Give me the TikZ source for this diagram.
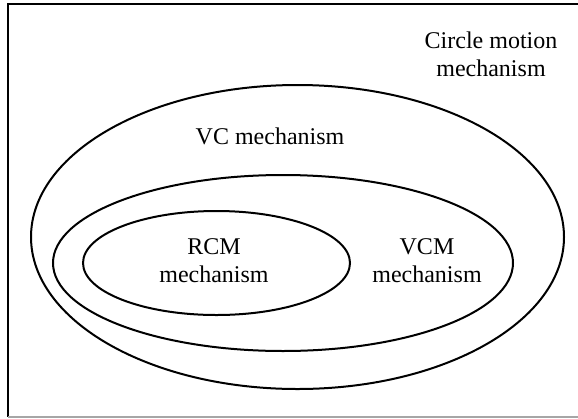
\documentclass[tikz,border=0pt]{standalone}
\usepackage{fontspec}
\setmainfont{Liberation Serif}
\begin{document}
\begin{tikzpicture}[x=1pt,y=-1pt,line width=2pt,
  lbl/.style={align=center,inner sep=0pt,font=\fontsize{24}{28}\selectfont}]
\useasboundingbox (0,0) rectangle (578,418);
\draw (580,4) -- (8,4) -- (8,417);
\draw[black!35] (8,417) -- (580,417);
\draw (297.5,237) ellipse [x radius=266.5, y radius=152];
\draw (283,263) ellipse [x radius=230, y radius=88];
\draw (216.5,263) ellipse [x radius=133.5, y radius=52];
\node[lbl] (circ) at (491,54) {Circle motion\\mechanism};
\node[lbl] (vc) at (270,136) {VC mechanism};
\node[lbl] (rcm) at (214,261) {RCM\\mechanism};
\node[lbl] (vcm) at (427,261) {VCM\\mechanism};
\end{tikzpicture}
\end{document}
